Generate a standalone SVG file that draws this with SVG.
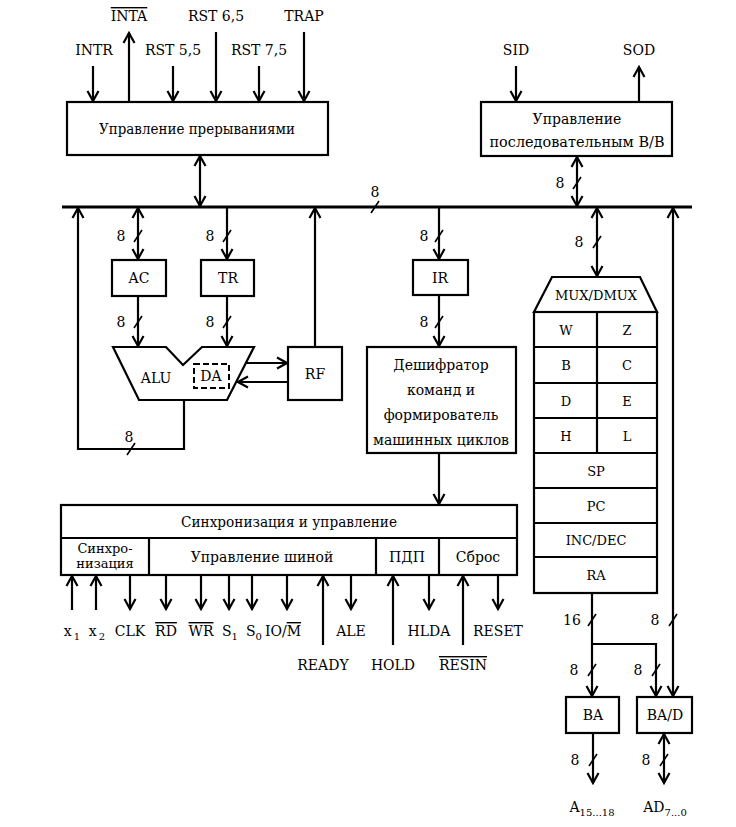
<svg xmlns="http://www.w3.org/2000/svg" width="736" height="827" viewBox="0 0 736 827">
<style>
text{font-family:'DejaVu Serif','Liberation Serif','Times New Roman',serif;font-size:14px;fill:#000;text-anchor:middle}
.sm{font-size:13px}
.sub{font-size:10px}
.box{fill:#fff;stroke:#000;stroke-width:2.2}
.ln{fill:none;stroke:#000;stroke-width:2.2}
.a{marker-end:url(#ah)}
.b{marker-start:url(#ah);marker-end:url(#ah)}
.sl{stroke:#000;stroke-width:1.6}
.ov{text-decoration:overline}
</style>
<defs>
<marker id="ah" markerUnits="userSpaceOnUse" markerWidth="14" markerHeight="14" viewBox="0 0 14 14" refX="12" refY="7" orient="auto-start-reverse">
<path d="M2,1.5 L12,7 L2,12.5" fill="none" stroke="#000" stroke-width="2.2"/>
</marker>
</defs>

<g id="connectors">
<line x1="62" y1="207" x2="692" y2="207" stroke="#000" stroke-width="3"/>
<line class="sl" x1="371" y1="213" x2="379" y2="201"/>
<text x="375" y="197">8</text>
<line class="ln a" x1="93" y1="66" x2="93" y2="101"/>
<line class="ln a" x1="129" y1="102" x2="129" y2="33"/>
<line class="ln a" x1="173" y1="66" x2="173" y2="101"/>
<line class="ln a" x1="216" y1="32" x2="216" y2="101"/>
<line class="ln a" x1="259" y1="66" x2="259" y2="101"/>
<line class="ln a" x1="304" y1="32" x2="304" y2="101"/>
<line class="ln b" x1="200" y1="156" x2="200" y2="206"/>
<line class="ln a" x1="516" y1="66" x2="516" y2="101"/>
<line class="ln a" x1="639" y1="102" x2="639" y2="67"/>
<line class="ln b" x1="577" y1="157" x2="577" y2="206"/>
<line class="sl" x1="573" y1="189" x2="581" y2="177"/>
<text x="560" y="188">8</text>
<line class="ln b" x1="138" y1="208" x2="138" y2="259"/>
<line class="sl" x1="134" y1="242" x2="142" y2="230"/>
<text x="121" y="241">8</text>
<line class="ln a" x1="227" y1="207" x2="227" y2="259"/>
<line class="sl" x1="223" y1="242" x2="231" y2="230"/>
<text x="210" y="241">8</text>
<line class="ln a" x1="138" y1="296" x2="138" y2="346"/>
<line class="sl" x1="134" y1="328" x2="142" y2="316"/>
<text x="121" y="327">8</text>
<line class="ln a" x1="227" y1="296" x2="227" y2="346"/>
<line class="sl" x1="223" y1="328" x2="231" y2="316"/>
<text x="210" y="327">8</text>
<polyline class="ln a" points="184,400 184,449 78,449 78,208"/>
<line class="sl" x1="127" y1="455" x2="135" y2="443"/>
<text x="129" y="442">8</text>
<line class="ln a" x1="246" y1="363" x2="287" y2="363"/>
<line class="ln a" x1="288" y1="382" x2="238" y2="382"/>
<line class="ln a" x1="315" y1="347" x2="315" y2="208"/>
<line class="ln a" x1="439" y1="207" x2="439" y2="259"/>
<line class="sl" x1="435" y1="242" x2="443" y2="230"/>
<text x="424" y="241">8</text>
<line class="ln a" x1="439" y1="295" x2="439" y2="346"/>
<line class="sl" x1="435" y1="328" x2="443" y2="316"/>
<text x="424" y="327">8</text>
<line class="ln a" x1="439" y1="453" x2="439" y2="504"/>
<line class="ln b" x1="597" y1="208" x2="597" y2="276"/>
<line class="sl" x1="593" y1="248" x2="601" y2="236"/>
<text x="579" y="247">8</text>
<line class="ln b" x1="673" y1="208" x2="673" y2="696"/>
<line class="sl" x1="669" y1="626" x2="677" y2="614"/>
<text x="655" y="625">8</text>
<line class="ln a" x1="592" y1="593" x2="592" y2="696"/>
<polyline class="ln a" points="592,644 656,644 656,696"/>
<line class="sl" x1="588" y1="626" x2="596" y2="614"/>
<text x="572" y="625">16</text>
<line class="sl" x1="588" y1="676" x2="596" y2="664"/>
<text x="574" y="675">8</text>
<line class="sl" x1="652" y1="676" x2="660" y2="664"/>
<text x="638" y="675">8</text>
<line class="ln a" x1="593" y1="733" x2="593" y2="783"/>
<line class="sl" x1="589" y1="766" x2="597" y2="754"/>
<text x="575" y="765">8</text>
<line class="ln b" x1="664" y1="734" x2="664" y2="783"/>
<line class="sl" x1="660" y1="766" x2="668" y2="754"/>
<text x="646" y="765">8</text>
<line class="ln a" x1="72" y1="610" x2="72" y2="576"/>
<line class="ln a" x1="96" y1="610" x2="96" y2="576"/>
<line class="ln a" x1="130" y1="575" x2="130" y2="609"/>
<line class="ln a" x1="166" y1="575" x2="166" y2="609"/>
<line class="ln a" x1="201" y1="575" x2="201" y2="609"/>
<line class="ln a" x1="229" y1="575" x2="229" y2="609"/>
<line class="ln a" x1="252" y1="575" x2="252" y2="609"/>
<line class="ln a" x1="287" y1="575" x2="287" y2="609"/>
<line class="ln a" x1="323" y1="645" x2="323" y2="576"/>
<line class="ln a" x1="351" y1="575" x2="351" y2="609"/>
<line class="ln a" x1="393" y1="645" x2="393" y2="576"/>
<line class="ln a" x1="429" y1="575" x2="429" y2="609"/>
<line class="ln a" x1="463" y1="645" x2="463" y2="576"/>
<line class="ln a" x1="498" y1="575" x2="498" y2="609"/>
</g>

<g id="labels">
<text x="129" y="21"><tspan class="ov">INTA</tspan></text>
<text x="216" y="21">RST 6,5</text>
<text x="304" y="21">TRAP</text>
<text x="94" y="55">INTR</text>
<text x="173" y="55">RST 5,5</text>
<text x="259" y="55">RST 7,5</text>
<text x="516" y="55">SID</text>
<text x="639" y="55">SOD</text>
<text x="72" y="636">x<tspan class="sub" dx="2" dy="4">1</tspan></text>
<text x="97" y="636">x<tspan class="sub" dx="2" dy="4">2</tspan></text>
<text x="130" y="636">CLK</text>
<text x="166" y="636"><tspan class="ov">RD</tspan></text>
<text x="201" y="636"><tspan class="ov">WR</tspan></text>
<text x="230" y="636">S<tspan class="sub" dy="4">1</tspan></text>
<text x="254" y="636">S<tspan class="sub" dy="4">0</tspan></text>
<text x="283" y="636">IO/<tspan class="ov">M</tspan></text>
<text x="351" y="636">ALE</text>
<text x="429" y="636">HLDA</text>
<text x="498" y="636">RESET</text>
<text x="323" y="670">READY</text>
<text x="393" y="670">HOLD</text>
<text x="463" y="670"><tspan class="ov">RESIN</tspan></text>
<text x="592" y="812">A<tspan class="sub" dy="4">15...18</tspan></text>
<text x="665" y="812">AD<tspan class="sub" dy="4">7...0</tspan></text>
</g>

<g id="interrupt">
<rect class="box" x="67" y="102" width="261" height="53"/>
<text x="197" y="134" textLength="196" lengthAdjust="spacingAndGlyphs">Управление прерываниями</text>
</g>
<g id="serial">
<rect class="box" x="481" y="102" width="191" height="54"/>
<text x="577" y="124">Управление</text>
<text x="577" y="147" textLength="175" lengthAdjust="spacingAndGlyphs">последовательным В/В</text>
</g>
<g id="AC">
<rect class="box" x="112" y="260" width="54" height="36"/>
<text x="139" y="283">AC</text>
</g>
<g id="TR">
<rect class="box" x="201" y="260" width="53" height="36"/>
<text x="228" y="283">TR</text>
</g>
<g id="IR">
<rect class="box" x="413" y="260" width="55" height="35"/>
<text x="440" y="283">IR</text>
</g>
<g id="ALU">
<polygon class="box" points="113,347 166,347 183,365 202,347 254,347 227,400 139,400"/>
<text x="156" y="383">ALU</text>
<rect x="194" y="364" width="35" height="24" fill="none" stroke="#000" stroke-width="2" stroke-dasharray="6,3"/>
<text x="211" y="381">DA</text>
</g>
<g id="RF">
<rect class="box" x="288" y="347" width="54" height="53"/>
<text x="315" y="379">RF</text>
</g>
<g id="decoder">
<rect class="box" x="367" y="347" width="149" height="106"/>
<text x="441" y="370">Дешифратор</text>
<text x="441" y="395">команд и</text>
<text x="441" y="420">формирователь</text>
<text x="441" y="445" textLength="136" lengthAdjust="spacingAndGlyphs">машинных циклов</text>
</g>
<g id="registers">
<polygon class="box" points="552,277 640,277 657,312 534,312"/>
<text x="596" y="300" class="sm">MUX/DMUX</text>
<rect class="box" x="534" y="312" width="123" height="281"/>
<line class="ln" x1="534" y1="347" x2="657" y2="347"/>
<line class="ln" x1="534" y1="383" x2="657" y2="383"/>
<line class="ln" x1="534" y1="418" x2="657" y2="418"/>
<line class="ln" x1="534" y1="453" x2="657" y2="453"/>
<line class="ln" x1="534" y1="488" x2="657" y2="488"/>
<line class="ln" x1="534" y1="523" x2="657" y2="523"/>
<line class="ln" x1="534" y1="557" x2="657" y2="557"/>
<line class="ln" x1="597" y1="312" x2="597" y2="453"/>
<text class="sm" x="566" y="335">W</text>
<text class="sm" x="627" y="335">Z</text>
<text class="sm" x="566" y="370">B</text>
<text class="sm" x="627" y="370">C</text>
<text class="sm" x="566" y="406">D</text>
<text class="sm" x="627" y="406">E</text>
<text class="sm" x="566" y="441">H</text>
<text class="sm" x="627" y="441">L</text>
<text class="sm" x="596" y="476">SP</text>
<text class="sm" x="596" y="511">PC</text>
<text class="sm" x="596" y="545">INC/DEC</text>
<text class="sm" x="596" y="580">RA</text>
</g>
<g id="BA">
<rect class="box" x="566" y="697" width="53" height="36"/>
<text x="593" y="720">BA</text>
</g>
<g id="BAD">
<rect class="box" x="637" y="697" width="55" height="36"/>
<text x="665" y="720">BA/D</text>
</g>
<g id="sync">
<rect class="box" x="61" y="505" width="456" height="70"/>
<line class="ln" x1="61" y1="538" x2="517" y2="538"/>
<line class="ln" x1="149" y1="538" x2="149" y2="575"/>
<line class="ln" x1="376" y1="538" x2="376" y2="575"/>
<line class="ln" x1="439" y1="538" x2="439" y2="575"/>
<text x="289" y="527" textLength="216" lengthAdjust="spacingAndGlyphs">Синхронизация и управление</text>
<text class="sm" x="105" y="553">Синхро-</text>
<text class="sm" x="105" y="568">низация</text>
<text x="262" y="562">Управление шиной</text>
<text x="407" y="562">ПДП</text>
<text x="478" y="562">Сброс</text>
</g>
</svg>
